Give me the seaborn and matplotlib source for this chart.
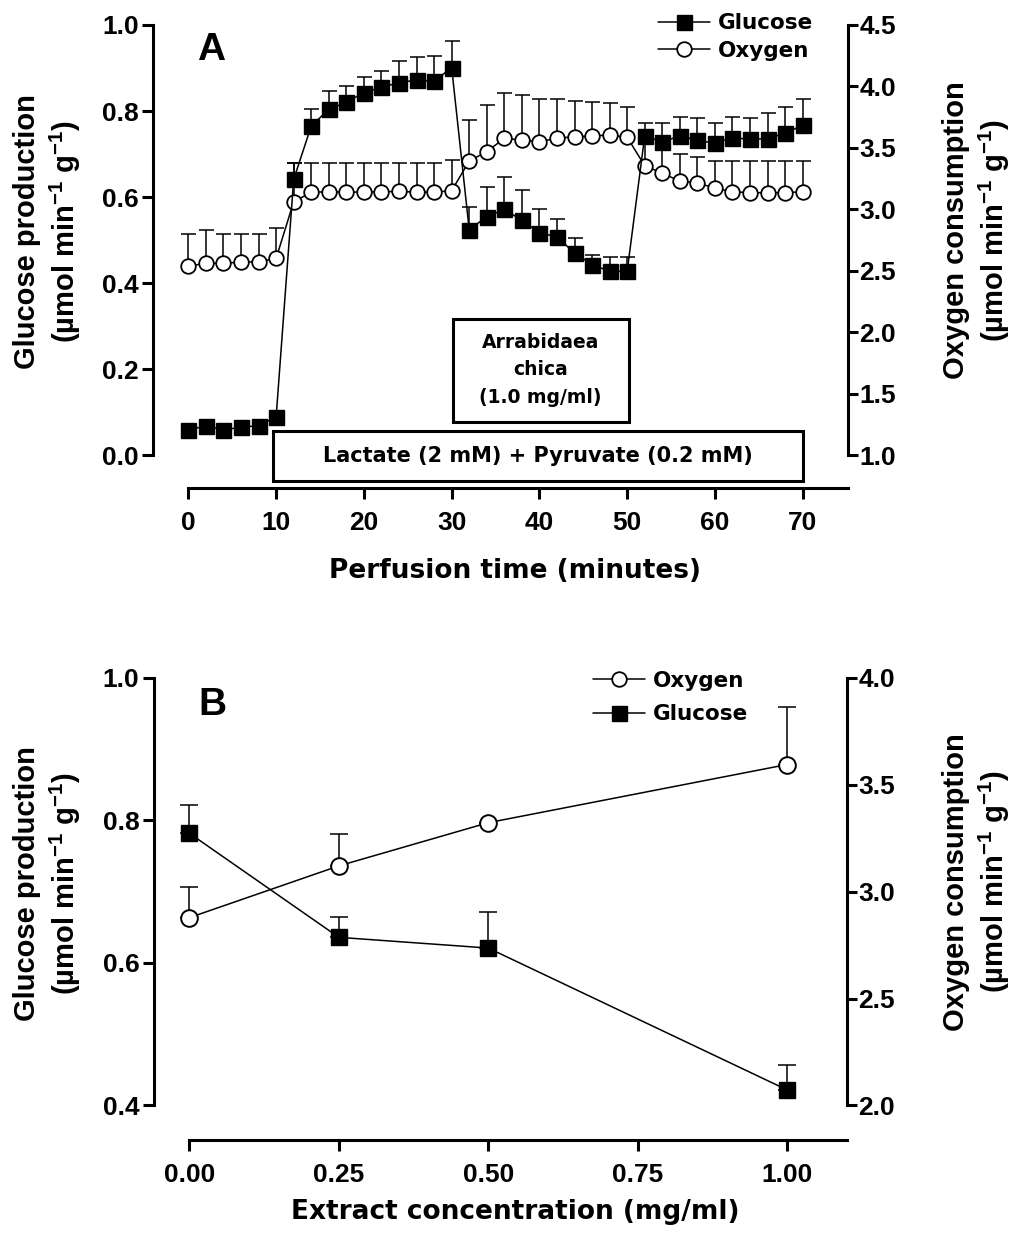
import numpy as np
import pandas as pd
import matplotlib
matplotlib.use("Agg")
import matplotlib.pyplot as plt
import seaborn as sns
from matplotlib.lines import Line2D
from matplotlib.patches import Rectangle

# ---------------- data ----------------
time_min = [0, 2, 4, 6, 8, 10, 12, 14, 16, 18, 20, 22, 24, 26, 28, 30, 32, 34,
            36, 38, 40, 42, 44, 46, 48, 50, 52, 54, 56, 58, 60, 62, 64, 66, 68, 70]
glucose_a = [0.058, 0.068, 0.058, 0.065, 0.068, 0.089, 0.641, 0.765, 0.804, 0.820,
             0.843, 0.855, 0.866, 0.872, 0.869, 0.901, 0.524, 0.554, 0.571, 0.546,
             0.517, 0.507, 0.470, 0.443, 0.427, 0.427, 0.742, 0.728, 0.742, 0.732,
             0.725, 0.738, 0.734, 0.736, 0.748, 0.767]
glucose_a_upper = [0.068, 0.078, 0.068, 0.075, 0.078, 0.099, 0.680, 0.804, 0.847, 0.857,
                   0.878, 0.893, 0.917, 0.925, 0.927, 0.962, 0.577, 0.624, 0.647, 0.616,
                   0.571, 0.550, 0.504, 0.464, 0.461, 0.461, 0.772, 0.773, 0.787, 0.784,
                   0.773, 0.787, 0.784, 0.795, 0.810, 0.829]
oxygen_a = [2.538, 2.560, 2.560, 2.571, 2.571, 2.601, 3.062, 3.138, 3.143, 3.140,
            3.140, 3.143, 3.145, 3.140, 3.140, 3.151, 3.393, 3.469, 3.578, 3.564,
            3.550, 3.578, 3.591, 3.596, 3.605, 3.586, 3.355, 3.293, 3.230, 3.216,
            3.171, 3.143, 3.135, 3.135, 3.135, 3.143]
oxygen_a_upper = [2.796, 2.831, 2.796, 2.796, 2.796, 2.845, 3.374, 3.374, 3.374, 3.374,
                  3.374, 3.374, 3.374, 3.374, 3.374, 3.401, 3.727, 3.846, 3.949, 3.930,
                  3.900, 3.895, 3.884, 3.876, 3.868, 3.830, 3.560, 3.550, 3.450, 3.428,
                  3.390, 3.390, 3.390, 3.390, 3.390, 3.390]

extract_conc = [0.0, 0.25, 0.50, 1.00]
glucose_b = [0.782, 0.636, 0.621, 0.422]
glucose_b_upper = [0.822, 0.664, 0.671, 0.457]
oxygen_b = [2.879, 3.121, 3.323, 3.595]
oxygen_b_upper = [3.023, 3.272, 3.323, 3.863]

yticks_glc_a = [0.0, 0.2, 0.4, 0.6, 0.8, 1.0]
yticks_oxy_a = [1.0, 1.5, 2.0, 2.5, 3.0, 3.5, 4.0, 4.5]
xticks_a = [0, 10, 20, 30, 40, 50, 60, 70]
yticks_glc_b = [0.4, 0.6, 0.8, 1.0]
yticks_oxy_b = [2.0, 2.5, 3.0, 3.5, 4.0]
xticks_b = [0.00, 0.25, 0.50, 0.75, 1.00]

glc_label = "Glucose production\n(µmol min$^{-1}$ g$^{-1}$)"
oxy_label = "Oxygen consumption\n(µmol min$^{-1}$ g$^{-1}$)"

# ---------------- style ----------------
sns.set_style("ticks")
plt.rcParams["font.family"] = ["DejaVu Sans"]
plt.rcParams["text.color"] = "black"
plt.rcParams["axes.labelcolor"] = "black"
plt.rcParams["axes.edgecolor"] = "black"
plt.rcParams["xtick.color"] = "black"
plt.rcParams["ytick.color"] = "black"
plt.rcParams["mathtext.fontset"] = "custom"
plt.rcParams["mathtext.rm"] = "Liberation Sans:bold"
plt.rcParams["mathtext.bf"] = "Liberation Sans:bold"
plt.rcParams["mathtext.it"] = "Liberation Sans:bold"
plt.rcParams["mathtext.default"] = "rm"

ARIAL = "Liberation Sans"
TAHOMA = "DejaVu Sans"
SPW = 2.2
TICKFS = 19
LABFS = 21

fig = plt.figure(figsize=(10.15, 12.37), dpi=100)

axA = fig.add_axes([0.15103, 0.63217, 0.68473, 0.34762])
axB = fig.add_axes([0.15172, 0.10631, 0.68325, 0.34559])


def style_pair(ax, ax2, xlim, xbound_hi, outward):
    for a in (ax, ax2):
        a.set_facecolor("none")
        a.spines["top"].set_visible(False)
    ax.spines["right"].set_visible(False)
    ax2.spines["left"].set_visible(False)
    ax2.spines["bottom"].set_visible(False)
    for s in (ax.spines["left"], ax.spines["bottom"], ax2.spines["right"]):
        s.set_linewidth(SPW)
        s.set_color("black")
    ax.spines["bottom"].set_position(("outward", outward))
    ax.spines["bottom"].set_bounds(0, xbound_hi)
    ax.set_xlim(*xlim)
    ax.tick_params(axis="y", direction="out", length=8, width=SPW, pad=2.5,
                   colors="black")
    ax.tick_params(axis="x", direction="out", length=8, width=SPW, pad=8,
                   colors="black")
    ax2.tick_params(axis="y", direction="out", length=7, width=SPW, pad=1,
                    colors="black")


def draw_series(ax, x, y, upper, marker, face, ms, mew, cap):
    y = np.asarray(y)
    up = np.asarray(upper) - y
    ax.errorbar(x, y, yerr=[np.zeros_like(up), up], fmt="none", ecolor="black",
                elinewidth=1.1, capsize=cap, capthick=1.1, zorder=2,
                clip_on=False)
    df = pd.DataFrame({"x": x, "y": y})
    sns.lineplot(data=df, x="x", y="y", ax=ax, color="black", linewidth=1.1,
                 marker=marker, markersize=ms, markerfacecolor=face,
                 markeredgecolor="black", markeredgewidth=mew, zorder=3,
                 clip_on=False, legend=False)


# ---------------- Panel A ----------------
axA2 = axA.twinx()
axA.set_zorder(axA2.get_zorder() + 1)
axA.patch.set_visible(False)

draw_series(axA2, time_min, oxygen_a, oxygen_a_upper, "o", "white", 10.5, 1.3, 5.4)
draw_series(axA, time_min, glucose_a, glucose_a_upper, "s", "black", 10.8, 1.0, 5.4)

axA.set_ylim(0, 1.0)
axA2.set_ylim(1.0, 4.5)
style_pair(axA, axA2, (-4.0, 75.2), 75.2, 24)

axA.set_xticks(xticks_a, labels=[str(t) for t in xticks_a],
               fontfamily=ARIAL, fontweight="bold", fontsize=TICKFS)
axA.set_yticks(yticks_glc_a, labels=[f"{v:.1f}" for v in yticks_glc_a],
               fontfamily=ARIAL, fontweight="bold", fontsize=TICKFS)
axA2.set_yticks(yticks_oxy_a, labels=[f"{v:.1f}" for v in yticks_oxy_a],
                fontfamily=ARIAL, fontweight="bold", fontsize=TICKFS)

axA.set_xlabel("Perfusion time (minutes)", fontfamily=TAHOMA, fontweight="bold",
               fontsize=19)
axA.xaxis.label.set_va("center")
axA.xaxis.set_label_coords(0.5204, -0.2698)
axA.set_ylabel(glc_label, fontfamily=ARIAL, fontweight="bold", fontsize=LABFS,
               multialignment="center", linespacing=1.25)
axA.yaxis.label.set_va("center")
axA.yaxis.set_label_coords(-0.152, 0.52)
axA2.set_ylabel(oxy_label, fontfamily=ARIAL, fontweight="bold", fontsize=LABFS,
                multialignment="center", linespacing=1.25, rotation=90)
axA2.yaxis.label.set_va("center")
axA2.yaxis.set_label_coords(1.185, 0.523)

# treatment boxes (panel A, glucose axis coordinates)
axA.add_patch(Rectangle((9.67, -0.0598), 70 - 9.67, 0.0565 + 0.0598, fill=False,
                        edgecolor="black", linewidth=2.2, clip_on=False, zorder=4))
axA.text((9.67 + 70) / 2, -0.0017, "Lactate (2 mM) + Pyruvate (0.2 mM)",
         ha="center", va="center", fontfamily=TAHOMA, fontweight="bold",
         fontsize=15, clip_on=False, zorder=5)
axA.add_patch(Rectangle((30.1, 0.0774), 50.2 - 30.1, 0.3156 - 0.0774, fill=False,
                        edgecolor="black", linewidth=2.2, clip_on=False, zorder=4))
axA.text(40.15, 0.198, "Arrabidaea\nchica\n(1.0 mg/ml)", ha="center", va="center",
         multialignment="center", fontfamily=TAHOMA, fontweight="bold",
         fontsize=13.5, linespacing=1.55, zorder=5)

fig.text(0.1941, 0.9515, "A", fontfamily=ARIAL, fontweight="bold", fontsize=28,
         ha="left", va="baseline")

h_glc = Line2D([], [], color="black", lw=1.1, marker="s", ms=10.8,
               mfc="black", mec="black")
h_oxy = Line2D([], [], color="black", lw=1.1, marker="o", ms=10.5,
               mfc="white", mec="black", mew=1.3)
legA = fig.legend([h_glc, h_oxy], ["Glucose", "Oxygen"], loc="upper left",
                  bbox_to_anchor=(658 / 1015, 0.98909), frameon=False,
                  borderpad=0, borderaxespad=0, handlelength=2.41,
                  handletextpad=0.37, labelspacing=0.33,
                  prop={"family": TAHOMA, "weight": "bold", "size": 15.5})

# ---------------- Panel B ----------------
axB2 = axB.twinx()
axB.set_zorder(axB2.get_zorder() + 1)
axB.patch.set_visible(False)

draw_series(axB2, extract_conc, oxygen_b, oxygen_b_upper, "o", "white", 12, 1.4, 6.6)
draw_series(axB, extract_conc, glucose_b, glucose_b_upper, "s", "black", 12, 1.0, 6.6)

axB.set_ylim(0.4, 1.0)
axB2.set_ylim(2.0, 4.0)
style_pair(axB, axB2, (-0.0594, 1.1013), 1.1013, 25.2)

axB.set_xticks(xticks_b, labels=[f"{v:.2f}" for v in xticks_b],
               fontfamily=ARIAL, fontweight="bold", fontsize=TICKFS)
axB.set_yticks(yticks_glc_b, labels=[f"{v:.1f}" for v in yticks_glc_b],
               fontfamily=ARIAL, fontweight="bold", fontsize=TICKFS)
axB2.set_yticks(yticks_oxy_b, labels=[f"{v:.1f}" for v in yticks_oxy_b],
                fontfamily=ARIAL, fontweight="bold", fontsize=TICKFS)

axB.set_xlabel("Extract concentration (mg/ml)", fontfamily=TAHOMA,
               fontweight="bold", fontsize=19)
axB.xaxis.label.set_va("center")
axB.xaxis.set_label_coords(0.5205, -0.249)
axB.set_ylabel(glc_label, fontfamily=ARIAL, fontweight="bold", fontsize=LABFS,
               multialignment="center", linespacing=1.25)
axB.yaxis.label.set_va("center")
axB.yaxis.set_label_coords(-0.153, 0.52)
axB2.set_ylabel(oxy_label, fontfamily=ARIAL, fontweight="bold", fontsize=LABFS,
                multialignment="center", linespacing=1.25, rotation=90)
axB2.yaxis.label.set_va("center")
axB2.yaxis.set_label_coords(1.187, 0.523)

fig.text(0.1951, 0.4220, "B", fontfamily=ARIAL, fontweight="bold", fontsize=28,
         ha="left", va="baseline")

legB = fig.legend([h_oxy, h_glc], ["Oxygen", "Glucose"], loc="upper left",
                  bbox_to_anchor=(593 / 1015, 0.45796), frameon=False,
                  borderpad=0, borderaxespad=0, handlelength=2.41,
                  handletextpad=0.37, labelspacing=0.65,
                  prop={"family": TAHOMA, "weight": "bold", "size": 15.5})

fig.savefig("out.png", dpi=100, facecolor="white")
